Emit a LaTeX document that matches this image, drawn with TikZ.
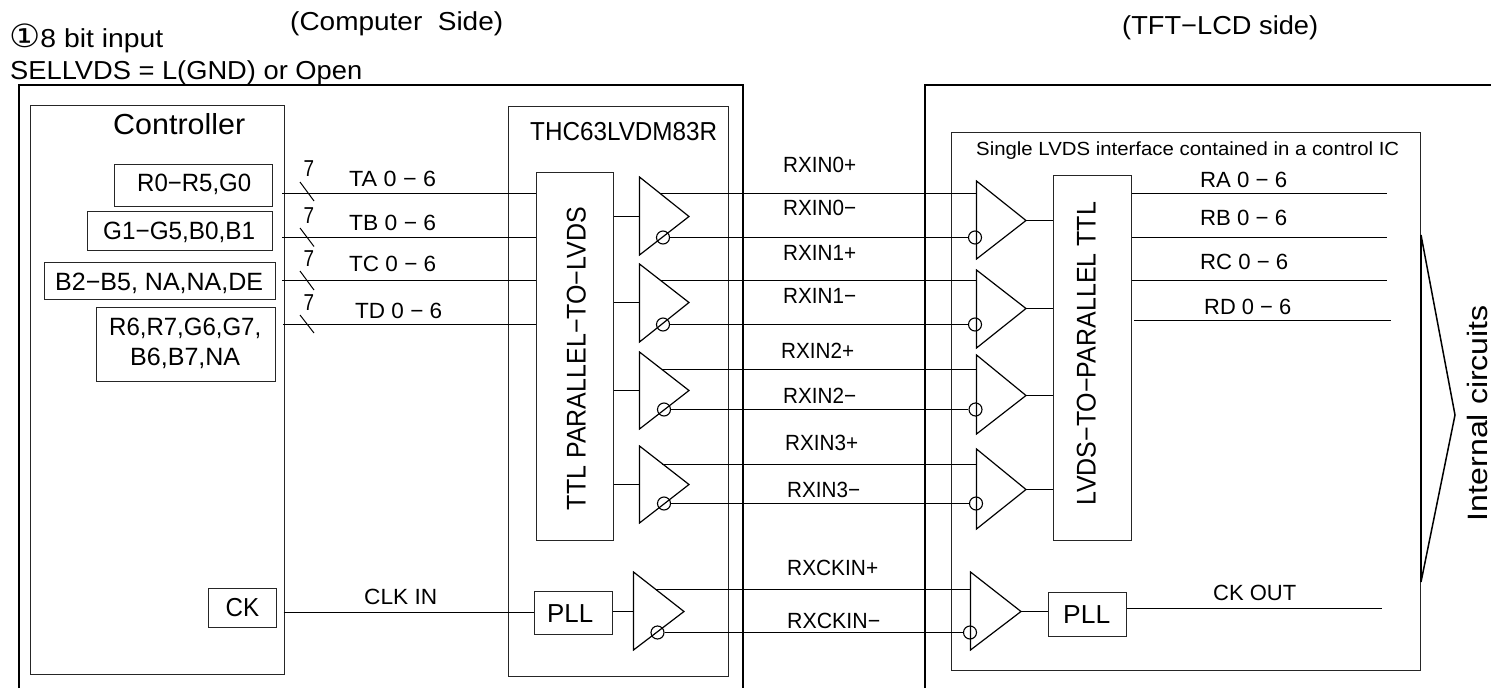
\documentclass[tikz,border=0pt]{standalone}
\usepackage{fontspec}
\usepackage{graphicx}
\setmainfont{Liberation Sans}
\newfontfamily\dejavu{DejaVu Sans}
\usetikzlibrary{fit}
\tikzset{
  thin wire/.style={line width=1.2pt,black},
  heavy wire/.style={line width=2pt,black},
  boxst/.style={draw=black!85,line width=1.35pt,inner sep=0pt,fill=none},
  bubble/.style={circle,draw=black,line width=1.1pt,minimum size=13pt,inner sep=0pt},
  ampst/.style={line width=1.2pt,black,line join=miter},
}
% name, x0, y0, x1, y1
\newcommand{\bx}[5]{\node[boxst,fit={(#2,#3)(#4,#5)}] (#1) {};}
% name, x0, x1, y-centre, size, text
\newcommand{\tx}[6]{%
  \pgfmathsetlengthmacro{\myW}{(#3-#2)*1pt}%
  \pgfmathsetmacro{\myB}{#4+0.358*#5}%
  \node[anchor=base west,inner sep=0pt] (#1) at (#2,\myB)
   {\resizebox{\myW}{\height}{\fontsize{#5}{#5}\selectfont #6}};}
% name, x-centre, y0(top), y1(bottom), size, text
\newcommand{\vt}[6]{%
  \pgfmathsetlengthmacro{\myW}{(#4-#3)*1pt}%
  \pgfmathsetmacro{\myB}{#2+0.358*#5}%
  \pgfmathsetmacro{\myM}{(#3+#4)/2}%
  \node[anchor=base,rotate=90,inner sep=0pt] (#1) at (\myB,\myM)
   {\resizebox{\myW}{\height}{\fontsize{#5}{#5}\selectfont #6}};}
% name, xleft, ytop, ybot, xtip, ytip
\newcommand{\amp}[6]{%
  \coordinate (#1top) at (#2,#3); \coordinate (#1bot) at (#2,#4); \coordinate (#1) at (#5,#6);
  \coordinate (#1in) at (#2,#6);
  \draw[ampst] (#1top) -- (#1) -- (#1bot) -- cycle;}
\begin{document}
\begin{tikzpicture}[x=1pt,y=-1pt]
\useasboundingbox (0,0) rectangle (1491,688);
% outer frames
\coordinate (lo1) at (19,688); \coordinate (lo2) at (19,85); \coordinate (lo3) at (743,85); \coordinate (lo4) at (743,688);
\draw[line width=1.8pt,black] (lo1) -- (lo2) -- (lo3) -- (lo4);
\coordinate (ro1) at (925,688); \coordinate (ro2) at (925,85); \coordinate (ro3) at (1491,85);
\draw[line width=1.8pt,black] (ro1) -- (ro2) -- (ro3);
% boxes
\bx{ctrl}{30.5}{105.5}{284.5}{674.5}
\bx{r0}{114.5}{164.5}{272.5}{206.5}
\bx{g1}{87.5}{211.5}{272.5}{250.5}
\bx{b2}{44.5}{262.5}{275.5}{299.5}
\bx{r6}{96.5}{307.5}{275.5}{381.5}
\bx{ckb}{208.5}{588.5}{276.5}{627.5}
\bx{thc}{508.5}{106.5}{728.5}{676.5}
\bx{ttl}{536.5}{172.5}{613.5}{540.5}
\bx{pllL}{534.5}{591.5}{612.5}{634.5}
\bx{ic}{951.5}{132.5}{1420.5}{670.5}
\bx{lvds}{1053.5}{175.5}{1131.5}{540.5}
\bx{pllR}{1048.5}{592.5}{1126.5}{636.5}
% drivers and receivers
\amp{d0}{639.5}{177}{255}{689}{216.5}
\amp{d1}{639.5}{264}{342}{689}{302.5}
\amp{d2}{639.5}{352}{429}{689}{390.5}
\amp{d3}{639.5}{446}{523}{689}{484.5}
\amp{dc}{633.5}{572}{650}{684}{611.5}
\amp{r0a}{976.5}{181}{259}{1026}{220.5}
\amp{r1a}{976.5}{270}{348}{1026}{308.5}
\amp{r2a}{976.5}{355}{434}{1026}{395.5}
\amp{r3a}{976.5}{449}{529}{1026}{489.5}
\amp{rca}{970.5}{572}{650}{1021}{611.5}
% bubbles
\node[bubble] (bd0) at (663,237.5) {};
\node[bubble] (bd1) at (663,324.5) {};
\node[bubble] (bd2) at (664,409.5) {};
\node[bubble] (bd3) at (664,503.5) {};
\node[bubble] (bdc) at (657.5,632.5) {};
\node[bubble] (br0) at (975,237.5) {};
\node[bubble] (br1) at (975,324.5) {};
\node[bubble] (br2) at (975.5,409.5) {};
\node[bubble] (br3) at (976,503.5) {};
\node[bubble] (brc) at (970,632.5) {};
% input buses
\coordinate (ta) at (282,193.5); \coordinate (tb) at (282,237.5); \coordinate (tc) at (282,280.5); \coordinate (td) at (283,324.5);
\draw[thin wire] (ta) -- (ttl.west |- ta);
\draw[thin wire] (tb) -- (ttl.west |- tb);
\draw[thin wire] (tc) -- (ttl.west |- tc);
\draw[thin wire] (td) -- (ttl.west |- td);
\coordinate (cki) at (283.5,612.5);
\draw[thin wire] (cki) -- (pllL.west |- cki);
% bus slashes
\foreach \n/\ya/\yb in {sa/182/201,sb/228/246.5,sc/271/290,sd/315/333}{
  \coordinate (\n1) at (300,\ya); \coordinate (\n2) at (314,\yb);
  \draw[line width=1pt,black] (\n1) -- (\n2);}
% feeds into drivers
\draw[thin wire] (ttl.east |- d0in) -- (d0in);
\draw[thin wire] (ttl.east |- d1in) -- (d1in);
\draw[thin wire] (ttl.east |- d2in) -- (d2in);
\draw[thin wire] (ttl.east |- d3in) -- (d3in);
\draw[thin wire] (pllL.east |- dcin) -- (dcin);
% differential pairs
\coordinate (p0) at (661,193.5); \coordinate (p1) at (661,280.5); \coordinate (p2) at (662,369.5); \coordinate (p3) at (662,464.5); \coordinate (pc) at (655,589.5);
\draw[thin wire] (p0) -- (r0atop |- p0);
\draw[thin wire] (p1) -- (r1atop |- p1);
\draw[thin wire] (p2) -- (r2atop |- p2);
\draw[thin wire] (p3) -- (r3atop |- p3);
\draw[thin wire] (pc) -- (rcatop |- pc);
\draw[thin wire] (bd0.east) -- (br0.west);
\draw[thin wire] (bd1.east) -- (br1.west);
\draw[thin wire] (bd2.east) -- (br2.west);
\draw[thin wire] (bd3.east) -- (br3.west);
\draw[thin wire] (bdc.east) -- (brc.west);
% receiver outputs
\draw[thin wire] (r0a) -- (lvds.west |- r0a);
\draw[thin wire] (r1a) -- (lvds.west |- r1a);
\draw[thin wire] (r2a) -- (lvds.west |- r2a);
\draw[thin wire] (r3a) -- (lvds.west |- r3a);
\draw[thin wire] (rca) -- (pllR.west |- rca);
% right side outputs
\coordinate (ra) at (1387,193.5); \coordinate (rb) at (1387,237.5); \coordinate (rc) at (1387,280.5); \coordinate (rdS) at (1134,320.5); \coordinate (rdE) at (1391,320.5); \coordinate (cko) at (1382,608.5);
\draw[thin wire] (lvds.east |- ra) -- (ra);
\draw[thin wire] (lvds.east |- rb) -- (rb);
\draw[thin wire] (lvds.east |- rc) -- (rc);
\draw[thin wire] (rdS) -- (rdE);
\draw[thin wire] (pllR.east |- cko) -- (cko);
% bracket
\coordinate (ba) at (1421,235); \coordinate (bb) at (1455,415); \coordinate (bc) at (1421,582);
\draw[line width=1.5pt,black,line join=miter] (ba) -- (bb) -- (bc);
\draw[heavy wire] (ba) -- (bc);
% texts
\tx{t1}{9}{163}{38}{26}{{\dejavu\fontsize{32}{32}\selectfont ①}8 bit input}
\tx{t2}{10}{362}{70}{26}{SELLVDS = L(GND) or Open}
\tx{t3}{290}{503}{21}{26}{(Computer\ \ Side)}
\tx{t4}{1122}{1318}{25}{26}{(TFT−LCD side)}
\tx{t5}{113}{245}{124}{29}{Controller}
\tx{t6}{137}{251}{183}{25}{R0−R5,G0}
\tx{t7}{103}{255}{231}{25}{G1−G5,B0,B1}
\tx{t8}{55}{263}{282}{25}{B2−B5, NA,NA,DE}
\tx{t9}{109}{261}{327}{25}{R6,R7,G6,G7,}
\tx{t10}{130}{240}{357}{25}{B6,B7,NA}
\tx{t11}{225.5}{259}{607}{26}{CK}
\tx{n1}{303.5}{314}{168}{23}{7}
\tx{n2}{303.5}{314}{215}{23}{7}
\tx{n3}{303.5}{314}{258}{23}{7}
\tx{n4}{303.5}{314}{302}{23}{7}
\tx{l1}{349}{436}{179}{22}{TA 0 − 6}
\tx{l2}{349}{436}{223}{22}{TB 0 − 6}
\tx{l3}{349}{436}{264}{22}{TC 0 − 6}
\tx{l4}{355}{442}{311}{22}{TD 0 − 6}
\tx{l5}{364}{437}{597}{22}{CLK IN}
\tx{t12}{530}{717}{131}{26}{THC63LVDM83R}
\vt{t13}{576}{207}{510}{27}{TTL PARALLEL−TO−LVDS}
\tx{t14}{547}{593}{613}{26}{PLL}
\tx{x1}{783}{856}{165}{22}{RXIN0+}
\tx{x2}{783}{856}{208}{22}{RXIN0−}
\tx{x3}{783}{856}{253}{22}{RXIN1+}
\tx{x4}{783}{856}{296}{22}{RXIN1−}
\tx{x5}{781}{854}{351}{22}{RXIN2+}
\tx{x6}{783}{856}{396}{22}{RXIN2−}
\tx{x7}{785}{858}{443}{22}{RXIN3+}
\tx{x8}{787}{860}{490}{22}{RXIN3−}
\tx{x9}{787}{878}{568}{22}{RXCKIN+}
\tx{x10}{787}{880}{621}{22}{RXCKIN−}
\tx{t15}{976}{1399}{149}{19}{Single LVDS interface contained in a control IC}
\vt{t16}{1086}{202}{505}{27}{LVDS−TO−PARALLEL TTL}
\tx{t17}{1063}{1110}{614}{26}{PLL}
\tx{y1}{1200}{1287}{180}{22}{RA 0 − 6}
\tx{y2}{1200}{1287}{218}{22}{RB 0 − 6}
\tx{y3}{1200}{1288}{262}{22}{RC 0 − 6}
\tx{y4}{1204}{1291}{307}{22}{RD 0 − 6}
\tx{y5}{1213}{1296}{593}{22}{CK OUT}
\vt{t18}{1477}{305}{521}{28}{Internal circuits}
\end{tikzpicture}
\end{document}
